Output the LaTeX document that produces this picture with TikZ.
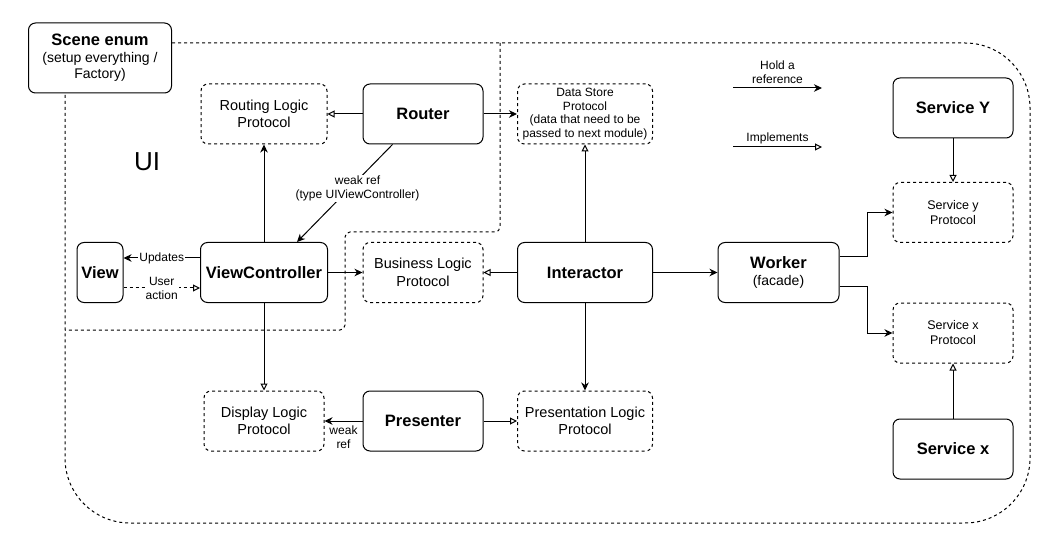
\documentclass[tikz,border=0pt]{standalone}
\usepackage{fontspec}
\setmainfont{Liberation Sans}
\usetikzlibrary{arrows.meta}
\tikzset{
	box/.style 2 args={draw,rounded corners=7pt,line width=1pt,fill=white,align=center,inner sep=0pt,minimum width=#1,minimum height=#2,font=\fontsize{16.5}{19}\selectfont\bfseries},
	proto/.style 2 args={draw,dash pattern=on 3pt off 3pt,rounded corners=7pt,line width=1pt,fill=white,align=center,inner sep=0pt,minimum width=#1,minimum height=#2,font=\fontsize{14.5}{17.5}\selectfont},
	holds/.style={-{Stealth[length=8pt,width=7.5pt,inset=2.5pt]},line width=1pt},
	impl/.style={-{Triangle[open,length=7pt,width=7pt,fill=white]},line width=1pt},
	lbl/.style={font=\fontsize{12}{14}\selectfont,align=center,fill=white,inner sep=1pt},
	region/.style={dash pattern=on 3pt off 3pt,line width=1pt}
}
\newcommand{\subline}[1]{{\fontsize{14}{16}\selectfont\mdseries #1}}

\begin{document}
\begin{tikzpicture}[x=1pt,y=-1pt]
	\useasboundingbox (0,0) rectangle (1049,553);

	% regions
	\draw[region] (65,200) -- (65,43) [rounded corners=65pt] -- (1030,43) -- (1030,523) -- (65,523) -- (65,200);
	\draw[region,rounded corners=5pt] (500,43) -- (500,232) -- (345,232) -- (345,330) -- (65,330);
	\node (ui) at (147,162) {\fontsize{26}{30}\selectfont UI};

	\node [box={143pt}{70pt}] (scene) at (100,58) {Scene enum\\[-2pt]\subline{(setup everything /}\\[-3pt]\subline{Factory)}};

	% top row
	\node [proto={126pt}{60pt}] (routing) at (264,114) {Routing Logic\\Protocol};
	\node [box={120pt}{60pt}] (router) at (423,114) {Router};
	\node [proto={135pt}{60pt},font=\fontsize{12}{13.8}\selectfont] (store) at (585,114) {Data Store\\Protocol\\(data that need to be\\passed to next module)};
	\node [box={120pt}{60pt}] (svcY) at (953,108) {Service Y};

	% middle row
	\node [box={46pt}{60pt}] (view) at (100,272.5) {View};
	\node [box={127pt}{60pt}] (vc) at (264,272.5) {ViewController};
	\node [proto={120pt}{60pt}] (blp) at (423,272.5) {Business Logic\\Protocol};
	\node [box={135pt}{60pt}] (interactor) at (585,272.5) {Interactor};
	\node [box={121pt}{60pt}] (worker) at (778.5,272.5) {Worker\\[-2pt]\subline{(facade)}};
	\node [proto={120pt}{60pt},font=\fontsize{12.5}{15}\selectfont] (svcyp) at (953,212.5) {Service y\\Protocol};
	\node [proto={120pt}{60pt},font=\fontsize{12.5}{15}\selectfont] (svcxp) at (953,333) {Service x\\Protocol};

	% bottom row
	\node [proto={120pt}{60pt}] (display) at (264,421) {Display Logic\\Protocol};
	\node [box={120pt}{60pt}] (presenter) at (423,421) {Presenter};
	\node [proto={135pt}{60pt}] (presentation) at (585,421) {Presentation Logic\\Protocol};
	\node [box={120pt}{60pt}] (svcX) at (953,449) {Service x};

	% legend
	\coordinate (hA) at (733,88);
	\coordinate (hB) at (822,88);
	\coordinate (iA) at (733,147);
	\coordinate (iB) at (822,147);
	\draw[holds] (hA) -- (hB) node[lbl,midway,above=3pt] {Hold a\\reference};
	\draw[impl] (iA) -- (iB) node[lbl,midway,above=2pt] {Implements};

	% connectors
	\draw[impl] (router) -- (routing);
	\draw[holds] (router) -- (store);
	\draw[holds] (vc) -- (routing);
	\draw[holds] ([xshift=30pt]router.south west) -- ([xshift=-31pt]vc.north east)
		node[lbl,pos=0.45,xshift=8pt] {weak ref\\(type UIViewController)};
	\draw[holds] ([yshift=14.5pt]vc.west) -- ([yshift=14.5pt]view.east) node[lbl,midway] {Updates};
	\draw[impl,dash pattern=on 3pt off 3pt] ([yshift=-15.5pt]view.east) -- ([yshift=-15.5pt]vc.west) node[lbl,midway] {User\\action};
	\draw[holds] (vc) -- (blp);
	\draw[impl] (interactor) -- (blp);
	\draw[impl] (interactor) -- (store);
	\draw[holds] (interactor) -- (worker);
	\draw[holds] (interactor) -- (presentation);
	\draw[impl] (vc) -- (display);
	\draw[holds] (presenter) -- (display) node[lbl,midway,below=3pt,fill=none] {weak\\ref};
	\draw[impl] (presenter) -- (presentation);
	\draw[holds] ([yshift=15.5pt]worker.east) -- ++(28,0) |- (svcyp.west);
	\draw[holds] ([yshift=-14.5pt]worker.east) -- ++(28,0) |- (svcxp.west);
	\draw[impl] (svcY) -- (svcyp);
	\draw[impl] (svcX) -- (svcxp);
\end{tikzpicture}
\end{document}
